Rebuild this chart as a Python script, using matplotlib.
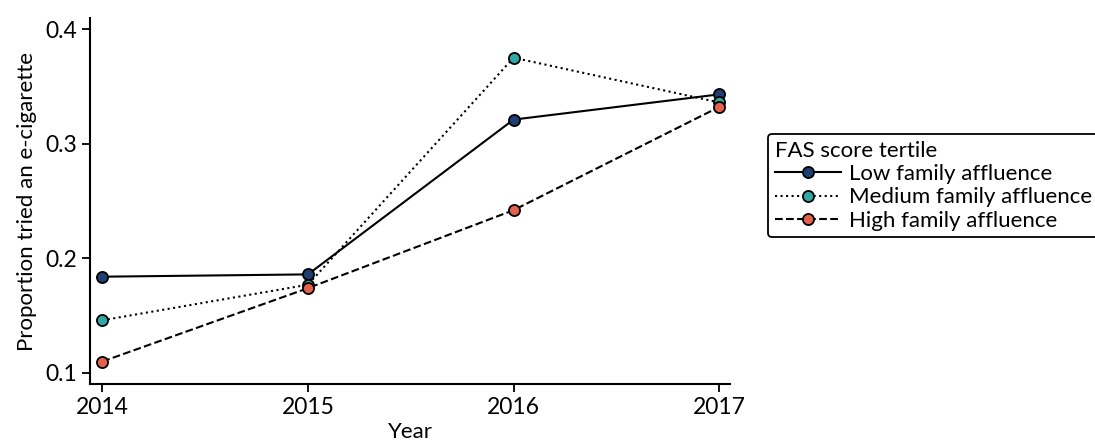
import matplotlib
matplotlib.use("Agg")
import matplotlib.pyplot as plt

plt.rcParams['font.family'] = ['Lato', 'DejaVu Sans']

years = [2014, 2015, 2016, 2017]
low_affluence = [0.184, 0.186, 0.321, 0.343]
medium_affluence = [0.146, 0.177, 0.375, 0.336]
high_affluence = [0.110, 0.174, 0.242, 0.332]

series = [
    ("Low family affluence", low_affluence, "-", "#1d3f73"),
    ("Medium family affluence", medium_affluence, ":", "#2fa8a6"),
    ("High family affluence", high_affluence, "--", "#e5614d"),
]

fig = plt.figure(figsize=(10.95, 4.46), dpi=100)
ax = fig.add_axes([0.0822, 0.139, 0.5845, 0.8206])

for label, vals, ls, col in series:
    ax.plot(years, vals, linestyle=ls, color="black", linewidth=1.5,
            marker="o", markersize=8, markerfacecolor=col,
            markeredgecolor="black", markeredgewidth=1.3, label=label)

ax.set_xlim(2013.94, 2017.053)
ax.set_ylim(0.0904, 0.4096)
ax.set_xticks(years)
ax.set_yticks([0.1, 0.2, 0.3, 0.4])
ax.set_yticklabels(["0.1", "0.2", "0.3", "0.4"])
for s in ("top", "right"):
    ax.spines[s].set_visible(False)
for s in ("left", "bottom"):
    ax.spines[s].set_linewidth(1.5)
ax.tick_params(axis="both", labelsize=16.5, length=6, width=1.3, direction="out",
               pad=3)
ax.set_xlabel("Year", fontsize=16, labelpad=3)
ax.set_ylabel("Proportion tried an e-cigarette", fontsize=16, labelpad=6)

leg = ax.legend(title="FAS score tertile", loc="upper left",
                bbox_to_anchor=(768 / 1095, 1 - 134 / 446),
                bbox_transform=fig.transFigure,
                fontsize=16, title_fontsize=16, frameon=True, fancybox=True,
                edgecolor="black", handlelength=3.0, handletextpad=0.35,
                labelspacing=0.15, borderpad=0.3, alignment="left",
                borderaxespad=0)
leg.get_frame().set_linewidth(1.3)
leg.get_frame().set_alpha(1)

fig.savefig("out.png", dpi=100)
